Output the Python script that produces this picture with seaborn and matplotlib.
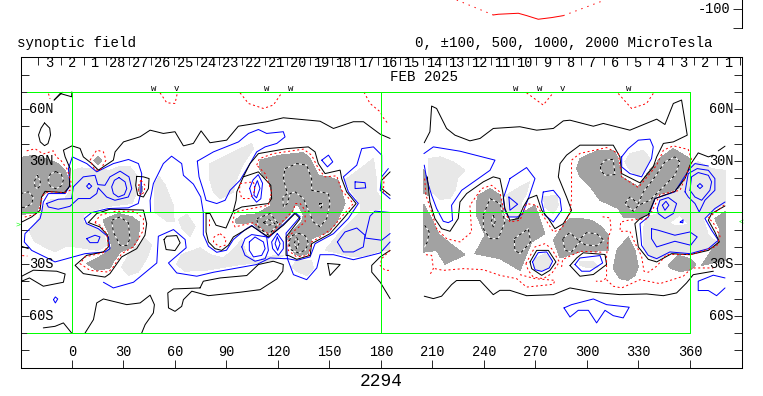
import numpy as np
import pandas as pd
import matplotlib
matplotlib.use('Agg')
import matplotlib.pyplot as plt
import seaborn as sns

# synoptic field, everything as (lon, lat)
day_labels = ['3', '2', '1'] + [str(d) for d in range(28, 0, -1)]
lon_labels = [0, 30, 60, 90, 120, 150, 180, 210, 240, 270, 300, 330, 360]
lat_labels = {60: '60N', 30: '30N', -30: '30S', -60: '60S'}
wv_marks = [(47.8, 'w'), (60.8, 'v'), (113.4, 'w'), (127.4, 'w'), (258.6, 'w'), (272.2, 'w'), (285.8, 'v'), (324, 'w')]

# top strip, neutral line value
strip_dotted = [[(224.1, -74.4), (245.4, -114.9)], [(286.2, -116.7), (310.5, -74.4)]]
strip_solid = [(245.4, -114.9), (248.3, -113), (260, -110.3), (264.9, -116.7), (271.6, -126.5), (279.4, -122), (286.2, -116.7)]

green_lines = [[(-26, 70), (360, 70)], [(-26, -70), (360, -70)], [(-30, 0), (390, 0)],
               [(0, 70), (0, -70)], [(180, 70), (180, -70)], [(360, 70), (360, -70)]]

light_patches = [
    [(0.8, 24.5), (5.6, 25.9), (22.1, 24.5), (27, 26.5), (33.8, 26.5), (37.7, 21.6), (37.7, 11), (34.8, 5.2), (23.1, 3.8), (12.4, 1.3), (6.6, -1.6), (6.6, -5.5), (10.5, -7.4), (18.3, -11.3), (20.2, -19.1), (15.3, -22), (1.8, -20), (-4.1, -20), (-9.9, -22.9), (-13.8, -21), (-21.6, -17.1), (-24.5, -11.3), (-21.6, -6.5), (-19.6, -3.5), (-16.7, 3.2), (-13.8, 7.1), (-4, 8.1), (0.2, 15.8)],
    [(48, 16), (50.7, 21), (54.2, 16), (59, 4), (59.5, -5), (56, -5.5), (48, 0.3)],
    [(62, -4), (67, -1), (71.7, -8), (68.8, -14), (64, -9)],
    [(28.9, -31.7), (33.8, -23), (42.5, -15.2), (46.4, -19), (43.5, -26.8), (38.6, -34.6), (32.8, -36.5)],
    [(61, -30.2), (63.9, -24.4), (74.6, -20.5), (80.4, -24.4), (88.2, -26.4), (94, -21.5), (98.9, -15.7), (101.8, -24.4), (107.6, -28.3), (113.4, -25.4), (123.1, -25), (118.3, -27.3), (107.6, -29.3), (97.9, -30.2), (78.5, -33.5), (65.9, -34.1)],
    [(128, -31.7), (130.9, -27.8), (139.6, -27.8), (140.6, -32.6), (136.7, -36.5), (131.9, -34.6)],
    [(159, 18.7), (166.8, 24.6), (175.6, 31.3), (177.1, 20.7), (177.5, 12), (179.5, 9), (180.4, 2.3), (167.8, 0), (167.8, 5.2), (162.9, 12)],
    [(167.8, 0), (185, 0), (185, -22), (180.4, -22), (171.7, -24.9), (163.9, -25.8), (152.3, -22.9), (147.4, -22), (156.2, -11.3), (163, -4.5)],
    [(80.4, 28.4), (94, 35.2), (104.7, 40), (105.7, 37.1), (99.8, 28.4), (96, 19.7), (94, 12), (86.3, 8.1), (82.4, 12), (80, 19.7)],
    [(207.6, 31.3), (214.4, 32.3), (222.1, 29.4), (228.9, 24.6), (225, 20.7), (223.1, 12.9), (220.2, 8.1), (214.4, 7.7), (209.5, 12), (207.6, 21.6)],
    [(252.8, 10), (261, 14.9), (266.4, 17.8), (264.8, 11), (261.9, 6.1), (261, -2.6), (253.2, -2.6)],
    [(274.5, 9), (282.3, 10), (283.3, 4.2), (280.4, -0.6), (275.5, 3.2)],
    [(269.7, -26.8), (275.5, -23.9), (279.4, -27.8), (277.5, -32.6), (272.6, -33.6), (268.7, -31.6)],
    [(295.9, -28.7), (303.7, -28.7), (306.6, -31.6), (300.8, -32.2), (295.9, -30.7)],
    [(322.1, 29.4), (325, 34.2), (332.8, 36.2), (336.7, 31.3), (333.8, 25.5), (329.9, 20.7), (325, 24.5)],
    [(332.8, -9.4), (334.7, -2.6), (341.5, -0.6), (342.5, 9), (352.2, 12), (360, 27.5), (364.8, 29.4), (372.6, 25.5), (380.4, 24.5), (380.4, 5.2), (373.6, 1.3), (367.7, -3.5), (370.7, -13.2), (375.5, -17.1), (372.6, -22), (360, -22.9), (348.3, -23.9), (339.6, -27.8), (334.7, -23.9), (332.8, -19.1)],
]
white_patches = [[(349.3, -5.9), (354.1, -2.6), (358, -6.5), (352.2, -7.1)]]

dark_patches = [
    [(-30, 32), (-23.5, 33), (-16, 31.5), (-8, 28.4), (-4, 24.5), (-1.7, 18.7), (-2, 14), (-5, 12), (-14.7, 12), (-17.7, 9), (-19.6, 3), (-20.6, -0.6), (-30, -1)],
    [(15, 32.7), (17.3, 30.2), (15, 27.7), (12.7, 30.2)],
    [(40, 17.5), (41.2, 13.5), (40, 10), (38.6, 13.5)],
    [(22.1, -2.5), (27, -0.6), (34.8, -2.5), (39.6, -5.9), (38.6, -15.2), (35.7, -20), (28, -22.9), (24.1, -28.7), (22.1, -32.2), (14.4, -33.6), (8.5, -29.7), (18.3, -24.5), (23.1, -20), (21.2, -11.3), (19.2, -7.4), (18.3, -4.5)],
    [(109.6, 30.4), (121.2, 33.3), (134.8, 34.8), (138.7, 31.3), (141.6, 25.5), (143.5, 21.6), (149.4, 20.7), (155.2, 18.7), (159.1, 5.2), (154.2, -5.5), (149.4, -11.3), (144.5, -13.2), (139.6, -15.2), (137.7, -23.9), (132.9, -24.9), (130, -24.5), (125.5, -15.2), (127, -12.3), (133.8, -5.5), (134.8, -1.6), (131.9, 4.2), (130, 4.2), (127.4, -0.6), (120.2, -8.4), (115.4, -13.2), (108.6, -9.4), (104.7, -5.9), (96, -6.5), (95, -4.6), (98.9, -1.6), (106.6, -1.2), (115.4, 3.8), (116.3, 12), (114.4, 19.7), (111.5, 20.7), (109.2, 25.5)],
    [(205, 24.7), (207, 19.7), (207.6, 10), (205, 11)],
    [(205, 4.6), (209.5, -3.6), (213.4, -12.3), (219.2, -17.1), (228.9, -24.5), (217.3, -30.1), (212.4, -22), (205, -23)],
    [(235.7, 6.1), (236.7, 10), (243.5, 13.9), (249.3, 10), (252.2, -3.5), (256.1, -5.5), (261.9, -0.6), (269.7, 4.2), (275.5, -12.3), (267.8, -17.1), (261, -33.6), (249.3, -26.8), (234.7, -23.9), (240.6, -13.2), (235.7, -1.6)],
    [(280.4, -16.1), (286.2, -7.4), (290, -3.5), (295.9, -3.5), (302.7, -4.5), (308.5, -8.4), (312.4, -13.2), (312.4, -22), (295.9, -22.9), (284.3, -26.4)],
    [(315.3, -32.6), (317.3, -22), (324, -14.2), (327.9, -22), (329.9, -31.7), (327.9, -36.5), (324, -39.4), (319.2, -38.4)],
    [(295.9, 31.3), (306.6, 36.2), (315.3, 36.2), (317.3, 33.3), (320.2, 20.7), (329.9, 14.9), (335.7, 23.6), (343.5, 32.3), (350.3, 37.1), (360, 31.3), (360, 27.5), (353.2, 13.9), (340.6, 10), (335.7, -0.6), (331.8, -3.5), (321.1, -2.6), (318.2, 2.3), (307.6, 7.1), (302.7, 13.9), (295.9, 20.7), (294, 25.5)],
    [(347.4, -30.7), (353.2, -24.9), (360, -26.8), (363.5, -30), (360, -33.6), (354.1, -34.2), (349.3, -32.6)],
    [(374.5, -3.6), (380.4, 0.3), (380.4, -27.8), (366.8, -30.7), (372.6, -22), (376.5, -16.7), (377.1, -9.4)],
]

black_loops = [
    [(-16, 52), (-13, 49), (-12.5, 45), (-14, 40), (-16, 38.8), (-18.5, 41), (-19.5, 45), (-18, 49)],
    [(37.7, 21), (41.6, 20.7), (44.9, 19.7), (44.5, 13.9), (41.6, 9), (38.3, 10), (37.1, 15.8)],
    [(9.5, -5.8), (14.4, -0.6), (22.1, 1.9), (41.6, 1.4), (43.5, -6.5), (42.5, -13.2), (37.7, -21), (28.9, -25.8), (22.1, -35.5), (19.2, -37.5), (6.6, -35.5), (1.8, -30.7), (8.5, -24.9), (18.3, -22.9), (21.2, -20), (20.8, -13.2), (16.3, -8.4)],
    [(78.1, -0.6), (78.1, -11.3), (79.5, -17.1), (83.3, -21), (87.2, -22), (91.1, -19), (94, -14.2), (98.9, -11.3), (104.7, -7.8), (114.4, -14.2), (123.1, -7.4), (129.9, -0.6), (132.9, -3.5), (124.7, -14.2), (124.7, -24.9), (126, -24.9), (130.9, -27.2), (138.7, -24.9), (139.6, -18.1), (150.3, -12.3), (158.1, -3.5), (165.5, 5.2), (160, 12), (157.1, 19.7), (156.2, 24.6), (147.4, 22.6), (143.5, 28.4), (141.6, 35.2), (137.7, 38.1), (125.1, 37.1), (108.6, 34.2), (103.7, 28.4), (99.8, 20.7), (96, 12), (95.6, 7.1), (94, 0.8), (92.1, -3.5), (89.7, -9), (83.9, -7.4), (80.4, -0.6)],
    [(53.6, -15.7), (55.2, -13.8), (61, -13.4), (63, -17.6), (60, -22.1), (54.8, -21.5)],
    [(74.6, -43.8), (76.5, -39.9), (86.3, -38), (101.8, -36.6), (108.6, -30.2), (117.3, -28.3), (123.1, -30.2), (122.8, -34.1), (119.3, -38.6), (109.6, -44.8), (97.9, -46.3), (79.5, -48.3), (69.8, -45.7), (64.9, -50.6), (63.9, -54.5), (60, -57.4), (56.2, -55.4), (55.8, -46.7), (59.1, -44.4)],
    [(149, -29.6), (156.2, -30.2), (150.3, -36.6)],
    [(266.8, -28.7), (270.7, -22), (277.5, -22), (281.9, -28.7), (278.4, -33.6), (273.6, -36.5), (267.8, -32.6)],
    [(290.1, -30.8), (294, -26.4), (297.8, -23.4), (310.5, -24.4), (311.4, -30.2), (303.7, -36), (295.9, -37)],
    [(-29.3, -39.9), (-24.8, -38), (-16.7, -42.8), (-5, -40.5), (-4, -35.7), (-8.9, -34.1), (-22.5, -33.5), (-29.3, -37)],
]
black_lines = [
    [(-29, -5.4), (-23.5, -2.6), (-18.6, 1.3), (-17.7, 9), (-15.7, 12.3), (-4.5, 11.5), (-1.5, 15), (-1.1, 25.5), (-4, 32.3), (-5, 36.2), (0, 38.7), (4.7, 37.2), (6.6, 32.3), (11.5, 28.4), (15.4, 24.6), (24.1, 30.4), (25.1, 35.2), (30, 41), (39.7, 44), (45.5, 47.8), (53.2, 45.9), (60, 46.9), (64.9, 38.7), (70.7, 40.1), (75.2, 47.4), (80.4, 40.5), (90.1, 42), (96.9, 50.1), (113.4, 52.7), (123.1, 55), (144.5, 53), (152.3, 48.8), (163.9, 52.7), (169.8, 52.7), (179.5, 45.5), (185.3, 43)],
    [(-10.4, 65.3), (-6.9, 69.1), (-0.2, 67.2), (-0.1, 70)],
    [(-10.4, 65.3), (-5.5, 69.8)],
    [(99.8, 20.7), (108.6, 23.6), (115.8, 15.8), (116.3, 8.1), (114.4, 5.2), (98.9, 3.2), (94, 0.8)],
    [(185.3, 23.6), (180.4, 18.7), (180.4, 13.9), (185.3, 10)],
    [(185.3, -22), (179.5, -25.8), (174.6, -30.7), (174.6, -34.6), (179.5, -40.4), (185.3, -50)],
    [(205.2, 40.5), (208.5, 46.9), (209.5, 61.8), (212.4, 60.4), (218.2, 48.8), (223.1, 44.9), (231.8, 41.6), (237.7, 43), (245.4, 48.8), (260.9, 49.8), (270.7, 47.8), (280.4, 48.8), (286.2, 53.2), (290.1, 53.6), (303.7, 50.1), (309.5, 51.7), (325, 47.8), (340.6, 54.2), (345.4, 51.1), (350.3, 63.3), (355.1, 65.3), (358.4, 44.9), (350.3, 41), (344.5, 40.1), (340.6, 32.3), (338.6, 26.5), (330.9, 17.2), (320.2, 22.6), (319.2, 32.3), (315.3, 39.1), (295.9, 39.1), (288.1, 33.3), (284.3, 28.4), (283.3, 20.7), (288.1, 9), (291, 1.3), (286.2, -6.5), (281.3, -9.4), (277.5, -3.5), (273.6, 1.3), (270.7, 10), (265.8, 8.1), (262.9, 3.2), (260, -3.5), (255.1, -4.5), (252.2, 2.3), (250.9, 12), (249.3, 19.7), (245.4, 20.7), (239.6, 17.8), (229.9, 11), (226, 6.1), (225, -3.5), (220.2, -10.9), (215.3, -9.4), (211.4, -3.5), (208.5, 6.1), (207, 20.7)],
    [(205.2, -48.6), (210.5, -50), (215.3, -48.6), (221.1, -41.9), (224, -39.5), (237.7, -39.5), (245.4, -47.7), (249.3, -45.2), (255.1, -45.2), (264.8, -48.3), (280.4, -47.7), (290.1, -43.8), (303.7, -46.3), (319.2, -47.7), (334.7, -47.3), (344.5, -48.3), (352.2, -46.7), (358, -40.9), (361.9, -36.1), (373.6, -34.1)],
    [(380.4, 3.8), (372.6, -0.6), (370.7, -4.5), (374.5, -11.3), (377.1, -17.1), (370.7, -22), (360, -24.5), (349.3, -23.9), (340.6, -28.7), (335.7, -27.2), (329.9, -20), (327.9, -6.5), (330.9, -3.5), (335.7, -1.2), (339.6, 8.1), (351.2, 12.3), (357.1, 19.7), (360, 27.5), (364.8, 34.6), (370.7, 32.3), (373.6, 33.3)],
    [(376.5, 35.8), (380.4, 38.5)],
    [(-16.7, -67), (-9.9, -66.1), (-5, -64.1), (-0.2, -70)],
    [(7.6, -70), (12.5, -62.2), (14.4, -52.5), (18.3, -50.2), (31.9, -53.5), (39.7, -52.5), (45.5, -48), (48, -53.5), (47.4, -58.3), (42.6, -65.1), (40.6, -70)],
    [(-29.7, -19.5), (-25.4, -21)],
]

inner_loops = [
    [(-9.5, 23.8), (-6.3, 22.3), (-5, 18.8), (-6.3, 15.3), (-9.5, 13.8), (-12.7, 15.3), (-14, 18.8), (-12.7, 22.3)],
    [(-20.2, 21.8), (-18.9, 19), (-18.4, 17.8), (-18.9, 15), (-20.2, 13.8), (-21.5, 15), (-22, 17.8), (-21.5, 19)],
    [(23.1, -4.5), (28, -2.6), (32.8, -5.9), (33.8, -15.2), (31.9, -19.1), (28, -19.1), (24.1, -11.3)],
    [(124.1, 25.5), (130.9, 28.4), (136.7, 27.5), (139.6, 19.7), (139.6, 12.9), (149.4, 11), (150.3, 5.2), (148.4, -3.5), (144.5, -8.4), (140.6, -5.5), (137.7, 1.3), (134.8, 8.1), (130, 12), (127, 11), (125.5, 5.2), (123.1, 3.2), (122.8, 9), (125.5, 11), (123.1, 19.7)],
    [(144, 5.2), (146, 5.2), (145, 2.5)],
    [(107.6, -3.6), (115.4, -0.6), (120.2, -6.5), (114.4, -13.2), (108.6, -8.4)],
    [(111.5, -5.9), (114.4, -3.9), (118.3, -6.5), (114.4, -7.4)],
    [(131.9, -12), (136, -13.6), (137.7, -17.7), (136, -21.8), (131.9, -23.5), (127.8, -21.8), (126.1, -17.7), (127.8, -13.6)],
    [(130.9, -14.5), (132.3, -17.7), (130.9, -21), (129.5, -17.7)],
    [(239.6, -1.6), (243.5, 8.1), (249.3, 5.2), (252.2, -5.5), (248.3, -15.2), (243.5, -15.2), (239.6, -9.4)],
    [(245.4, -1.6), (246.6, -5.1), (245.4, -8.4), (244.3, -5.1)],
    [(257.6, -15.2), (265.8, -9.4), (267.2, -17.1), (261, -23.9), (258, -22)],
    [(285.8, -15.2), (290, -11.7), (294.9, -16.1), (299.8, -11.7), (305.6, -12.3), (309.9, -16.1), (305.6, -19.4), (298.8, -18.7), (295.9, -16.7), (294.9, -18.1), (291, -22.9), (287.2, -22)],
    [(307.9, 27.5), (310.5, 30.4), (315.3, 30.9), (316.3, 22), (310.5, 21.6), (307.9, 24.5)],
    [(322.1, 5.2), (325, 9), (329.9, 5.2), (332.8, 11.9), (339.6, 20.7), (345.4, 29.4), (351.2, 32.3), (354.1, 29.4), (351.2, 21.6), (342.5, 12.9), (336.7, 7.1), (329.9, 4.2), (327, 0.7)],
]
inner_lines = [
    [(-30, 11), (-25.4, 12), (-22.5, 9), (-23.5, 5), (-27.4, 3), (-30, 3)],
    [(205.4, -7.4), (208.1, -11.3), (207, -17.1), (205.4, -20)],
]

blue_loops = [
    [(0.2, 32.3), (8.6, 28.4), (14.4, 23.6), (24.1, 28.4), (32.9, 30.8), (38.7, 28.4), (40.6, 22.6), (40.2, 12), (38.6, 5.2), (32.8, 2.7), (21.2, 2.3), (11.5, 0), (7.2, -3.5), (8.5, -6.5), (15.3, -9.4), (21.2, -14.2), (22.1, -21), (19.2, -22.9), (7.6, -23.9), (-9.9, -28.7), (-15.7, -25.8), (-23.5, -22), (-27.8, -17.1), (-27.4, -12.3), (-24.5, -9.4), (-18.6, -3.5), (-17.7, 0), (-16.7, 6.1), (-13.8, 11), (-4, 11), (-1.2, 15.8), (-2.1, 25.5)],
    [(-14.8, 5.2), (-8, 7.7), (-0.2, 8.1), (0.8, 14.9), (6.6, 20.7), (13.4, 21.6), (15, 16.2), (19.2, 15.8), (22.1, 20.7), (28, 24), (33.2, 20.7), (34.8, 13.9), (32.8, 9), (25, 7.1), (20.2, 9), (15.3, 14.3), (14.4, 11), (10.5, 8.1), (3.7, 8.1), (-1.2, 3.6), (-8, 1.9), (-13.8, 3.2)],
    [(27.4, 20.3), (30.9, 17.8), (31.9, 13.9), (30.5, 10.4), (27, 9), (24.1, 11), (23.1, 14.9), (24.7, 18.7)],
    [(9.9, 16.8), (11.5, 15.3), (9.9, 13.7), (8.5, 15.3)],
    [(8.5, -15.2), (13.4, -13.2), (16.3, -14.2), (15, -17.5), (10.5, -17.5)],
    [(-10.8, -50.6), (-9.7, -49), (-8.3, -50.2), (-9.7, -52.5)],
    [(73, 29.8), (82.4, 35.2), (97, 41), (102.8, 45.9), (108.6, 48.2), (113.4, 45.9), (123.1, 46.9), (124.1, 43.9), (119.3, 40.1), (112.5, 38.1), (107.6, 35.2), (103.7, 28.4), (97.9, 18.7), (92.1, 12.9), (89.2, 7.1), (84.3, 5.2), (78.1, 7.1), (76.5, 12.9), (74, 20.7)],
    [(98.9, -20), (100.8, -15.2), (104.7, -12.8), (113.4, -14.2), (114.4, -22), (112.5, -26.8), (106.6, -28.3), (100.8, -24.9)],
    [(103.3, -17.1), (106.6, -14.2), (111.5, -17.1), (112.5, -21), (110.5, -24.9), (105.7, -25.8), (103.3, -22)],
    [(119.6, -12.2), (123.1, -17.1), (123.1, -21), (120.2, -24.9), (116.9, -21), (116.3, -17.1)],
    [(119.6, -14.2), (121.2, -18.1), (119.8, -22), (118.3, -18.1)],
    [(154.6, -17.1), (159, -11.3), (165.9, -9), (170.7, -13.2), (169.7, -20), (163.9, -22.9), (158.1, -22.9)],
    [(164.9, 17.8), (170.7, 17.3), (171.1, 14.3), (164.9, 13.9)],
    [(145.5, 30.4), (149.4, 33.3), (151.9, 29.4), (148.8, 26.5)],
    [(103.5, 14), (105.5, 19), (108.5, 22), (111, 17), (110, 8), (107.5, 6), (105, 9)],
    [(106.5, 15), (108, 18.5), (109.5, 14), (107.5, 8.5), (106, 10)],
    [(255.1, 19.7), (264.8, 26.1), (269.7, 19.7), (265.8, 8.1), (262.5, -0.6), (260, -2.6), (254.2, -2.6), (252.2, 1.3), (251.2, 8.1)],
    [(254.5, 9), (259.6, 4.8), (255.1, 1.3)],
    [(274.5, 11.9), (280.4, 12.9), (284.3, 8.1), (285.2, 1.3), (280.4, -5.5), (275.5, -1.6), (273.6, 6.1)],
    [(268.3, -28.7), (271.6, -23.3), (276.5, -22.9), (280, -28.3), (278, -32.2), (273.6, -34.2), (269.7, -33.2)],
    [(293, -30.2), (295.9, -26.4), (307.6, -25), (309.1, -29.3), (301.7, -34.1), (296.9, -34.1)],
    [(286.6, -55.4), (291, -53.5), (303.7, -50.2), (311.4, -53.5), (324.6, -55), (321.1, -61.2), (315.3, -59.9), (310.5, -56.8), (305.6, -64.1), (300.8, -56.8), (294.9, -56.8), (290.1, -60.7)],
    [(320.2, 32.3), (324, 37.1), (329.9, 42), (336.7, 42.6), (338.6, 38.1), (337.6, 31.3), (331.8, 20.7), (325, 22.6), (320.2, 26.5)],
    [(357.1, 12), (359, 22.6), (364.2, 25.5), (370.7, 24.5), (374.5, 19.7), (374.5, 12.9), (368.7, 7.1), (365.4, 0.3), (362.9, 5.2), (359, 9)],
    [(360, 12.9), (360.9, 20.7), (364.8, 23.2), (370.7, 21.6), (372.6, 17.8), (371.6, 12.9), (366.8, 7.1), (362.9, 9)],
    [(364.3, 15.4), (365.8, 16.8), (367.4, 15.3), (365.8, 13.9)],
    [(340.9, 2.3), (342.5, 7.1), (347.4, 8.7), (352.2, 5.2), (350.3, -0.6), (345.4, -3.5), (341.5, -0.6)],
    [(343.9, 4.2), (346, 6.5), (347.7, 4.2), (345.4, 1.3)],
    [(337.6, -9.4), (341.5, -10.3), (351.2, -13.2), (360, -11.3), (364.2, -14.2), (360.4, -19), (351.2, -16.7), (340.6, -20), (337.6, -15.2)],
    [(354.3, -5.6), (356, -4.2), (355.8, -6)],
]
blue_lines = [
    [(45.8, 0), (45.5, 7), (47.4, 16.8), (53.2, 28.4), (58, 32.7), (63.9, 28.4), (64.9, 21.6), (70.7, 16.5), (75, 9), (76.5, 0), (76.5, -12.8), (79.5, -19.6), (84.3, -23.1), (90, -21.9), (94, -15.7), (100.8, -10), (104.7, -7.5), (114.4, -14.8), (124, -6), (130, 0), (132.9, -2.5), (124.7, -12), (125.5, -26.8)],
    [(18.3, -40.5), (24.1, -43.8), (35.8, -40.5), (49.4, -29.3), (50.3, -13.8), (59.1, -9.9), (65.9, -15.7), (66.5, -20.5), (56.2, -29.3), (61, -35.1), (72.7, -37), (82.4, -34.7), (107.6, -30.2), (115.4, -26.4), (123.5, -26.8), (125.5, -26.8), (130.9, -27.8), (138.7, -25.8), (141.6, -18.1), (152.3, -12.3), (161, -3.5), (166.8, 5.2), (161, 12), (158.1, 20.7), (165.9, 27.5), (168.8, 37.1), (175.6, 38.1), (180.4, 33.3), (180.4, 23.6)],
    [(125.5, -26.8), (129, -36.1), (136.7, -39), (142.6, -32.2), (144.5, -24.5), (152.3, -24.5), (163.9, -27.4), (171.7, -25.5), (179.5, -23.5), (185.3, -17.1)],
    [(170.7, -14.2), (173.6, -2.1), (176.5, 0.8), (185.3, 0)],
    [(170.7, -14.8), (180.4, -16.1), (185.3, -12.2)],
    [(184.3, 25.5), (180.4, 20.7), (179.5, 12.9), (185.3, 8)],
    [(205, 34.2), (210.5, 38.1), (226, 35.6), (246.4, 30.4), (243.5, 24.5), (236.7, 19.7), (227, 12.9), (221.1, 4.2), (221.7, -4.5), (219.2, -5.9), (216.3, -5.1), (212.4, 2.3), (209.5, 10), (206.6, 19.7), (205.2, 27.5)],
    [(380.4, 6.1), (374.5, 2.3), (368.7, -3.5), (372.6, -10.3), (376.5, -16.1), (370.7, -21), (360, -23.9), (348.3, -22.9), (340.6, -26.8), (335.7, -24.9), (331.8, -19.1), (330.9, -6.5), (335.7, -2.6), (339.6, 8.1), (351.2, 12), (356.1, 19.7), (360, 25.5), (362.9, 28.4), (370.7, 27)],
    [(380.4, -38), (373.6, -36.4), (364.8, -39.9), (364.8, -45.3), (370.7, -45.3), (375.5, -48.3), (380.4, -43.8)],
]

red_loops = [
    [(10.5, 30.4), (14.4, 36.2), (18.3, 35.2), (19.8, 30.4), (16.4, 24.6), (13.4, 24.6)],
    [(40.2, 18.7), (42.5, 15.8), (42.1, 12), (40.2, 10), (38.6, 12.9), (39, 16.8)],
    [(13.4, -5.9), (16.3, -1.6), (25, 0.7), (36.7, 0.7), (41.6, -3.5), (41.6, -10.3), (35.7, -20), (28.9, -23.9), (24.1, -31.6), (21.2, -34.6), (10.5, -33.6), (4.7, -29.7), (7.6, -25.8), (18.3, -23.3), (21.2, -19.1), (20.2, -12.3), (16.3, -7.4)],
    [(107.6, 27.5), (109.2, 31.3), (117.3, 34.2), (134.8, 36.8), (139.6, 33.3), (143.5, 25.5), (147.4, 20.7), (154.2, 21.3), (157.1, 12.9), (163.9, 5.2), (156.2, -3.5), (151.3, -9.4), (144.5, -14.2), (139.6, -17.1), (137.7, -24.9), (130.9, -25.8), (126, -22), (126, -14.2), (129.9, -10.3), (135.8, -5.5), (135.8, 1.3), (132.9, 5.2), (130, 5.2), (129, 1.3), (121.2, -6.5), (115.4, -13.2), (105.7, -5.9), (98.9, -7.4), (95, -8.4), (93.6, -5.5), (95, 0.4), (114.4, 4.2), (116.3, 12), (112.5, 22.6)],
    [(97.9, 16.8), (105.7, 17.8), (106.6, 12.9), (103.7, 8.1), (98.9, 8.1), (97.5, 12.9)],
    [(86.3, -12.3), (89.7, -15.2), (89.2, -19), (85.9, -20), (82.4, -17.1), (82.8, -14.2)],
    [(264.4, -29.7), (269.7, -20), (275.5, -18.1), (279.4, -21), (283.9, -28.7), (279.4, -35.5), (274.5, -38.4), (268.7, -37.5), (265.8, -33.6)],
]
red_lines = [
    [(-26.4, 35.8), (-21.5, 37), (-16.7, 34), (-10.9, 35.8), (-9, 32), (-7, 31), (-3, 25.5), (-0.6, 17.8), (-1, 13), (-4, 11.6), (-13.8, 12), (-16.7, 10.4), (-18, 7), (-19.2, 0.3), (-21, -1), (-29, -3)],
    [(-13.7, 69), (-12.8, 66)],
    [(51.3, 69.5), (55.2, 63.7), (60, 63.3), (61.4, 69.5)],
    [(97.9, 69.5), (102.8, 63.3), (111.5, 60.4), (117.3, 62.4), (122.2, 69.5)],
    [(170.1, 69.9), (173.6, 63.3), (179.5, 58.5), (181, 55.5), (184.3, 51.3)],
    [(264.8, 69.5), (274.5, 62.4), (280, 69.1)],
    [(318.2, 69.1), (326, 60.4), (334.7, 63.3), (338.6, 69.1)],
    [(80, -3.5), (80, -8.4)],
    [(181.8, 20.7), (181.4, 11.9), (183.3, 11)],
    [(185.3, -22), (180.4, -26.8), (179.5, -30.7), (182.4, -33.6), (185.3, -33.6)],
    [(-29, -25), (-26, -25.3)],
    [(205.4, 19.7), (206.2, 10), (209.5, 0.3), (212.4, -9.4), (218.2, -15.2), (226, -17.1), (232.8, -11.3), (231.8, 4.2), (238.6, 13.9), (244.4, 15.8), (249.3, 11.9), (251.2, 2.3), (255.1, -5.5), (261, -4.5), (264.8, 5.2), (270.7, 4.2), (275.5, -3.5), (280.4, -11.3), (285.2, -9.4), (290, -0.6), (291, 8.1), (291, 19.7), (291, 30.4), (295.9, 34.3), (311.4, 37.7), (318.2, 34.3), (320.2, 20.7), (329.9, 14.5), (340.6, 27.5), (344.5, 36.2), (350.3, 38.7), (359, 36.6), (361, 30.4), (360.9, 29.4), (354.2, 12.9), (342.5, 10.4), (337.6, 0.3), (334.7, -3.7), (324, -4.5), (319.6, -5.6), (319.2, -10.9), (325, -10.9), (327.9, -17.6), (331.8, -25.4), (333.2, -34.1), (335.7, -34.7), (340.6, -31.2), (346.4, -24.4), (361, -24.4), (375.5, -19.6), (377.5, -13.8), (373.6, -6), (370.7, -3.1), (380.4, 4.7)],
    [(309.1, -2.5), (313.4, -3.1), (314, -9.9), (312.4, -14.7), (311.4, -25.4), (311.4, -38), (308.5, -39.9), (305.2, -39.9)],
    [(311.4, -39), (315.3, -42.8), (320.2, -43.8), (330.9, -39), (342.5, -41.3), (356.1, -37), (361, -32.2), (373.6, -32.2)],
    [(206.2, -24.5), (209.5, -24.9), (210.5, -32.6), (208.5, -36.1)],
    [(211.4, -32.6), (216.3, -33.6), (228, -32.6), (239.6, -33.2), (249.3, -36.5), (259, -38.4), (264.8, -43.3), (280.4, -41.7), (281.3, -39.4), (269.7, -38.4), (261, -36.1)],
    [(285.2, -31.6), (285.8, -27.3), (292, -24.4), (295.9, -22.5), (309.5, -23.1)],
]

LINE = 0.72


def to_frame(paths, closed=False):
    rows = []
    for i, path in enumerate(paths):
        pts = list(path) + ([path[0]] if closed else [])
        rows += [(i, lon, lat) for lon, lat in pts]
    return pd.DataFrame(rows, columns=['path', 'lon', 'lat'])


def draw(axis, paths, color, closed=False, **kwargs):
    sns.lineplot(data=to_frame(paths, closed), x='lon', y='lat', units='path', estimator=None,
                 sort=False, color=color, linewidth=LINE, legend=False, ax=axis, **kwargs)


sns.set_style('white')
plt.rcParams['font.family'] = ['Liberation Mono', 'DejaVu Sans Mono']
plt.rcParams['text.color'] = 'black'

fig = plt.figure(figsize=(7.63, 3.96), dpi=100)
ax = fig.add_axes([20.5 / 763, 1 - 367.5 / 396, 721.5 / 763, 310 / 396])

for patch in light_patches:
    ax.fill(*zip(*patch), color='#e8e8e8', linewidth=0, antialiased=False, zorder=1)
for patch in dark_patches:
    ax.fill(*zip(*patch), color='#a2a2a2', linewidth=0, antialiased=False, zorder=1.1)
for patch in white_patches:
    ax.fill(*zip(*patch), color='white', linewidth=0, antialiased=False, zorder=1.2)

draw(ax, blue_loops, '#0000ff', closed=True)
draw(ax, blue_lines, '#0000ff')
draw(ax, black_loops, 'black', closed=True)
draw(ax, black_lines, 'black')
draw(ax, red_loops, '#ff0000', closed=True, linestyle=(0, (2, 2.6)))
draw(ax, red_lines, '#ff0000', linestyle=(0, (2, 2.6)))
# inner contour is black dashes on a white line
draw(ax, inner_loops, 'white', closed=True)
draw(ax, inner_lines, 'white')
draw(ax, inner_loops, 'black', closed=True, linestyle=(0, (3, 3)))
draw(ax, inner_lines, 'black', linestyle=(0, (3, 3)))
draw(ax, green_lines, '#00ff00')

ax.set_xlim(-30, 390.3)
ax.set_ylim(-90, 90)
ax.set_xlabel('')
ax.set_ylabel('')
ax.set_xticks(lon_labels)
ax.set_xticks(np.arange(-19.6, 390, 13.18), minor=True)
ax.set_yticks(np.arange(-90, 91, 10))
ax.tick_params(axis='x', which='major', direction='in', length=5.8, width=0.7, bottom=True, top=False, labelbottom=False)
ax.tick_params(axis='x', which='minor', direction='in', length=5.8, width=0.7, bottom=False, top=True)
ax.tick_params(axis='y', direction='in', length=5.5, width=0.7, left=True, right=True, labelleft=False)
for spine in ax.spines.values():
    spine.set_visible(True)
    spine.set_linewidth(0.75)
    spine.set_color('black')
    spine.set_zorder(5)

for i, day in enumerate(day_labels):
    ax.text(-13.18 + 13.18 * i, 86.6, day, ha='center', va='center', fontsize=9.8)
for lon in lon_labels:
    ax.text(lon, -81, str(lon), ha='center', va='center', fontsize=9.8)
for lat, label in lat_labels.items():
    ax.text(-25, lat, label, ha='left', va='center', fontsize=9.8)
    ax.text(385.5, lat, label, ha='right', va='center', fontsize=9.8)
for lon, mark in wv_marks:
    ax.text(lon, 71.8, mark, ha='center', va='center', fontsize=6.5)
ax.text(205, 78.6, 'FEB 2025', ha='center', va='center', fontsize=10.2)
ax.text(-31.5, -7.5, '>', color='#00ff00', ha='center', va='center', fontsize=6, clip_on=False)
ax.text(389.5, -5.5, '<', color='#00ff00', ha='center', va='center', fontsize=6, clip_on=False)

fig.text(17 / 763, 1 - 42.5 / 396, 'synoptic field', ha='left', va='center', fontsize=10.2)
fig.text(415 / 763, 1 - 42.5 / 396, '0, ±100, 500, 1000, 2000 MicroTesla', ha='left', va='center', fontsize=10.2)
fig.text(381.5 / 763, 1 - 381 / 396, '2294', ha='center', va='center', fontsize=12.9)

# strip of the neutral line plot above the map
ax_top = fig.add_axes([20.5 / 763, 1 - 28.3 / 396, 721.5 / 763, 28.3 / 396])
ax_top.patch.set_visible(False)
draw(ax_top, strip_dotted, '#ff0000', linestyle=(0, (1.4, 5)))
draw(ax_top, [strip_solid], '#ff0000')
ax_top.set_xlim(-30, 390.3)
ax_top.set_ylim(-151, -74.4)
ax_top.set_xlabel('')
ax_top.set_ylabel('')
ax_top.set_xticks([])
ax_top.set_yticks([-100, -151])
ax_top.tick_params(axis='y', direction='in', length=6.5, width=0.7, left=False, right=True, labelleft=False)
for name, spine in ax_top.spines.items():
    spine.set_visible(name == 'right')
    spine.set_linewidth(0.75)
    spine.set_color('black')
ax_top.text(383.5, -100, '-100', ha='right', va='center', fontsize=9.8)

fig.savefig('out.png', dpi=100)
